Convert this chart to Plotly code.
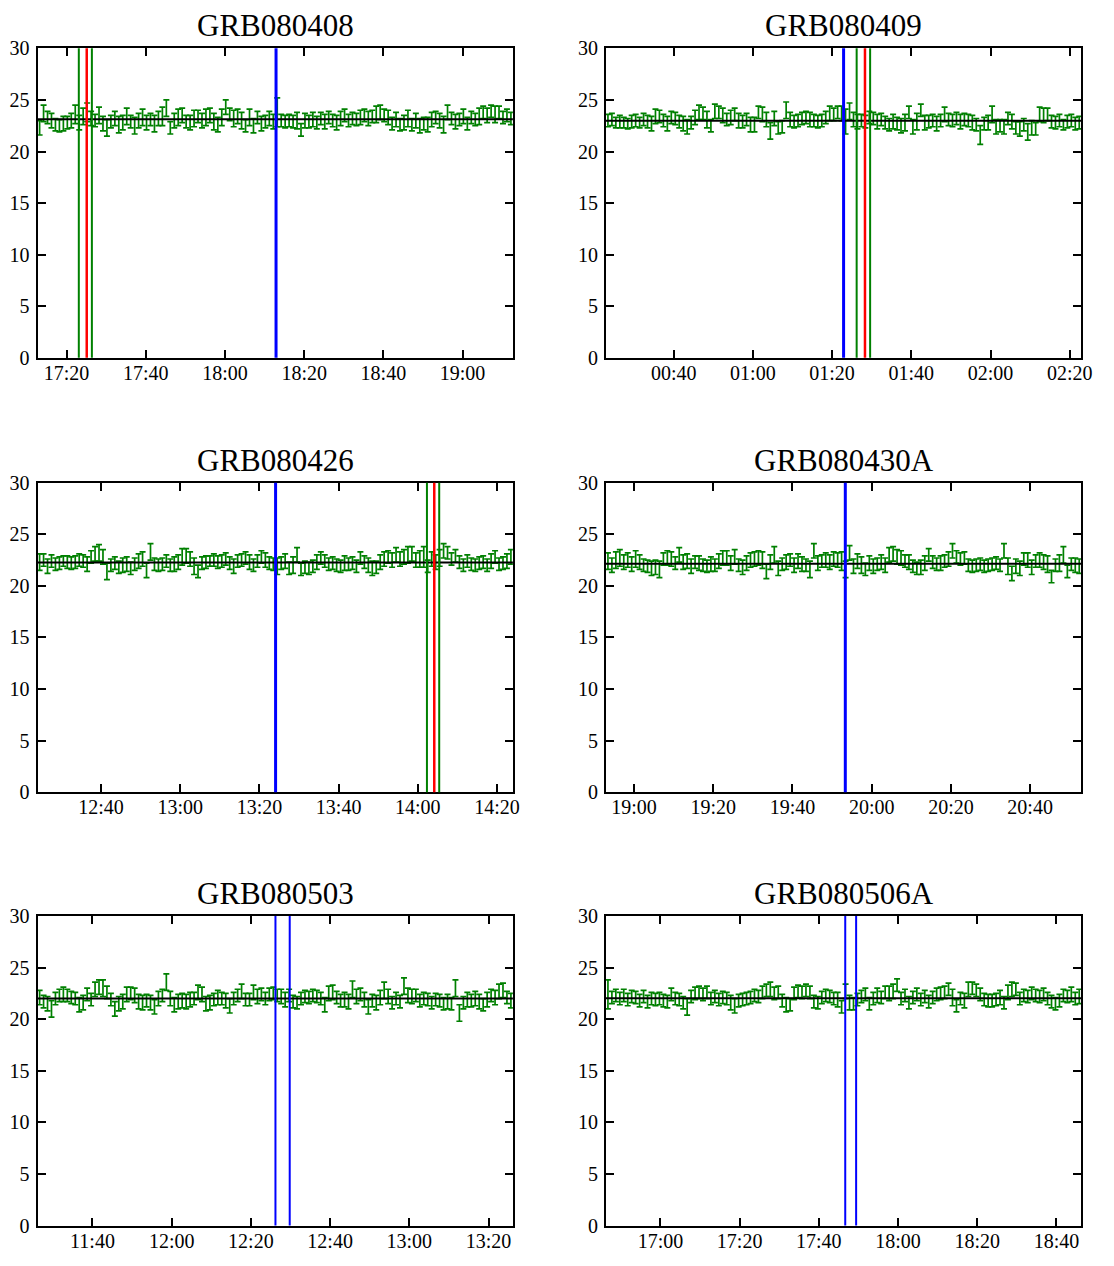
import pandas as pd
import plotly.graph_objects as go

# ---- light-curve data: one-minute magnitudes around each burst ----
titles = ["GRB080408", "GRB080409", "GRB080426", "GRB080430A", "GRB080503", "GRB080506A"]

# start of each two-hour window (axis range)
window_start = ["2008-04-08 17:12:42", "2008-04-09 00:22:54", "2008-04-26 12:24:00",
                "2008-04-30 18:52:54", "2008-05-03 11:26:09", "2008-05-06 16:46:15"]

# constant reference level of each field
levels = [23.12, 22.98, 22.25, 22.15, 22.0, 22.02]

mag_080408 = [22.3, 23.7, 23.3, 23.0, 22.6, 22.5, 22.7, 22.8, 23.0, 23.6, 22.8,
              23.4, 23.8, 23.2, 23.0, 23.5, 22.7, 22.3, 22.9, 23.2, 22.6,
              22.8, 23.4, 22.9, 22.5, 23.0, 23.3, 22.8, 23.1, 22.7, 23.2,
              23.4, 24.2, 22.3, 23.0, 23.3, 23.5, 22.9, 22.8, 23.2, 23.4,
              23.0, 23.3, 23.5, 22.9, 22.6, 23.3, 24.3, 23.6, 23.2, 23.4,
              23.0, 22.5, 23.3, 22.5, 23.3, 22.7, 22.9, 23.2, 22.9, 23.8,
              23.0, 22.9, 23.0, 22.9, 23.0, 22.1, 23.0, 22.9, 23.1, 22.8,
              23.2, 22.9, 23.3, 23.0, 22.8, 23.2, 23.5, 23.0, 23.2, 23.1,
              23.3, 23.5, 23.2, 23.4, 23.6, 23.8, 23.5, 23.3, 22.7, 23.1,
              22.6, 22.8, 23.2, 22.6, 23.0, 22.5, 22.7, 22.6, 23.1, 23.3,
              23.0, 22.6, 23.8, 23.2, 22.9, 23.1, 23.4, 22.7, 23.3, 23.1,
              23.4, 23.8, 23.5, 23.9, 23.6, 23.8, 23.3, 23.5, 23.2]
err_080408 = [0.7, 0.8, 0.6, 0.7, 0.6, 0.6, 0.7, 0.6, 0.7, 0.9,
              0.7, 0.8, 0.9, 0.7, 0.6, 0.8, 0.7, 0.8, 0.6, 0.7,
              0.8, 0.7, 0.8, 0.6, 0.8, 0.7, 0.8, 0.7, 0.6, 0.8,
              0.7, 0.9, 0.8, 0.6, 0.7, 0.8, 0.7, 0.6, 0.7, 0.8,
              0.6, 0.7, 0.8, 0.7, 0.8, 0.7, 0.8, 0.7, 0.6, 0.8,
              0.7, 0.8, 0.6, 0.8, 0.7, 0.6, 0.7, 0.6, 0.7, 0.7,
              1.4, 0.6, 0.6, 0.6, 0.6, 0.8, 0.6, 0.7, 0.6, 0.7,
              0.6, 0.6, 0.7, 0.6, 0.6, 0.7, 0.7, 0.6, 0.6, 0.6,
              0.6, 0.7, 0.6, 0.7, 0.6, 0.8, 0.7, 0.6, 0.7, 0.6,
              0.7, 0.6, 0.7, 0.8, 0.6, 0.7, 0.7, 0.6, 0.7, 0.7,
              0.6, 0.7, 0.8, 0.7, 0.6, 0.7, 0.6, 0.7, 0.6, 0.6,
              0.6, 0.8, 0.6, 0.7, 0.6, 0.8, 0.6, 0.6, 0.6, 0.6]

mag_080409 = [23.0, 23.1, 22.8, 22.9, 22.8, 22.7, 22.9, 23.0, 22.8, 23.1, 22.9,
              22.7, 23.4, 23.4, 23.0, 22.7, 23.3, 23.2, 22.9, 22.7, 22.4,
              22.8, 23.3, 23.8, 23.7, 23.1, 22.5, 23.9, 23.8, 23.5, 23.1,
              23.3, 23.6, 23.0, 22.9, 23.1, 22.6, 22.6, 23.8, 23.6, 23.1,
              22.0, 23.2, 22.3, 22.4, 24.0, 23.1, 22.9, 23.0, 23.2, 23.3,
              23.1, 23.0, 22.9, 23.0, 23.3, 23.7, 23.6, 23.8, 23.7, 22.9,
              23.9, 23.1, 22.9, 23.0, 22.9, 23.3, 23.2, 22.9, 23.1, 22.8,
              22.6, 22.9, 22.7, 22.5, 22.8, 23.8, 22.4, 22.9, 24.0, 22.8,
              22.9, 23.0, 22.7, 23.0, 23.6, 23.1, 23.0, 23.2, 22.9, 23.1,
              23.0, 22.8, 22.6, 21.6, 22.7, 22.8, 23.6, 22.4, 22.5, 22.4,
              23.2, 22.9, 22.3, 22.2, 22.6, 21.9, 22.3, 22.2, 23.6, 23.5,
              23.6, 22.9, 22.8, 23.0, 22.6, 22.9, 23.0, 22.7, 22.8]
err_080409 = [0.6, 0.6, 0.5, 0.6, 0.5, 0.5, 0.6, 0.6, 0.5, 0.6,
              0.6, 0.7, 0.7, 0.6, 0.6, 0.7, 0.6, 0.6, 0.6, 0.7,
              0.7, 0.6, 0.7, 0.7, 0.6, 0.8, 0.6, 0.7, 0.6, 0.7,
              0.6, 0.7, 0.6, 0.7, 0.6, 0.6, 0.7, 0.7, 0.6, 0.7,
              0.7, 0.8, 0.7, 0.6, 0.6, 0.8, 0.7, 0.6, 0.6, 0.6,
              0.6, 0.7, 0.6, 0.6, 0.6, 0.6, 0.7, 0.6, 0.6, 0.7,
              1.2, 0.8, 0.7, 0.7, 0.6, 0.6, 0.6, 0.6, 0.7, 0.6,
              0.6, 0.6, 0.7, 0.6, 0.7, 0.8, 0.6, 0.7, 0.8, 0.6,
              0.7, 0.6, 0.6, 0.7, 0.6, 0.7, 0.6, 0.6, 0.6, 0.7,
              0.6, 0.6, 0.7, 0.6, 0.9, 0.6, 0.7, 0.8, 0.7, 0.6,
              0.7, 0.6, 0.7, 0.6, 0.7, 0.6, 0.8, 0.7, 0.6, 0.7,
              0.7, 0.6, 0.6, 0.6, 0.6, 0.5, 0.6, 0.6, 0.6, 0.6]

mag_080426 = [22.3, 22.5, 21.9, 22.4, 22.1, 22.2, 22.4, 22.3, 22.2, 22.3, 22.5,
              22.4, 22.1, 22.8, 23.1, 23.2, 22.8, 21.4, 22.0, 22.2, 21.8,
              22.0, 22.1, 21.7, 22.1, 22.4, 22.6, 21.5, 23.3, 22.1, 22.0,
              22.1, 22.4, 22.0, 22.1, 22.3, 22.8, 22.9, 22.6, 21.9, 21.4,
              22.2, 22.3, 22.4, 22.5, 22.3, 22.4, 22.6, 22.2, 21.9, 22.4,
              22.5, 22.7, 22.3, 22.0, 22.4, 22.8, 22.5, 22.2, 22.1, 21.9,
              22.2, 22.4, 21.7, 22.0, 23.0, 21.6, 21.8, 21.7, 21.9, 22.3,
              22.7, 22.4, 22.1, 22.2, 22.0, 21.9, 22.2, 22.1, 22.2, 21.9,
              22.7, 22.3, 22.0, 21.7, 21.8, 22.3, 22.6, 22.8, 22.5, 23.0,
              22.6, 22.8, 23.0, 23.1, 22.5, 22.6, 22.8, 21.9, 22.6, 22.3,
              22.7, 23.4, 23.2, 22.6, 22.9, 22.3, 22.0, 22.4, 22.1, 22.0,
              22.2, 22.3, 22.0, 22.4, 22.8, 22.1, 22.2, 22.4, 22.8]
err_080426 = [0.8, 0.6, 0.7, 0.6, 0.6, 0.6, 0.5, 0.6, 0.6, 0.6,
              0.6, 0.6, 0.7, 0.6, 0.7, 0.8, 0.7, 0.8, 0.6, 0.6,
              0.6, 0.7, 0.7, 0.6, 0.6, 0.7, 0.7, 0.7, 0.8, 0.6,
              0.6, 0.6, 0.6, 0.6, 0.7, 0.7, 0.8, 0.7, 0.7, 0.8,
              0.6, 0.6, 0.6, 0.5, 0.6, 0.6, 0.6, 0.6, 0.6, 0.7,
              0.6, 0.6, 0.6, 0.7, 0.6, 0.6, 0.6, 0.7, 0.6, 0.6,
              0.8, 0.6, 0.7, 0.6, 0.8, 0.7, 0.6, 0.6, 0.6, 0.6,
              0.7, 0.6, 0.6, 0.6, 0.6, 0.6, 0.6, 0.7, 0.6, 0.6,
              0.6, 0.6, 0.6, 0.7, 0.7, 0.6, 0.7, 0.7, 0.6, 0.7,
              0.7, 0.7, 0.7, 0.8, 0.7, 0.7, 0.8, 1.0, 0.6, 0.7,
              0.7, 0.8, 0.7, 0.6, 0.6, 0.6, 0.6, 0.6, 0.6, 0.6,
              0.6, 0.6, 0.6, 0.6, 0.7, 0.6, 0.6, 0.6, 0.7, 0.7]

mag_080430A = [22.4, 22.0, 22.5, 22.7, 22.3, 22.5, 22.1, 22.6, 22.3, 22.0, 21.9,
               21.7, 21.8, 21.6, 22.6, 22.7, 22.6, 22.2, 23.0, 22.3, 22.4,
               21.9, 22.3, 22.2, 22.0, 21.9, 22.1, 22.0, 22.4, 22.7, 22.7,
               22.2, 22.8, 22.0, 21.8, 22.2, 22.5, 22.6, 22.7, 22.5, 21.4,
               22.3, 23.0, 21.7, 22.1, 22.3, 22.5, 22.0, 22.4, 22.1, 22.0,
               21.6, 23.4, 22.2, 22.4, 22.5, 22.3, 22.6, 22.5, 22.4, 21.6,
               23.2, 21.9, 22.4, 22.0, 21.6, 22.2, 21.9, 22.1, 22.3, 22.0,
               23.0, 23.1, 22.8, 22.7, 22.4, 22.3, 21.9, 21.7, 21.8, 22.2,
               23.0, 22.3, 22.1, 22.2, 22.4, 22.6, 23.4, 22.8, 22.6, 22.7,
               22.0, 21.9, 22.0, 22.1, 21.9, 22.0, 22.1, 22.2, 22.0, 23.4,
               21.9, 21.2, 21.9, 21.7, 22.6, 22.5, 21.8, 22.4, 22.5, 22.3,
               22.1, 20.9, 22.0, 22.2, 23.0, 21.4, 22.1, 22.0, 21.9]
err_080430A = [0.8, 0.7, 0.8, 0.8, 0.7, 0.7, 0.7, 0.8, 0.7, 0.6,
               0.6, 0.7, 0.7, 0.8, 0.6, 0.7, 0.7, 0.6, 0.7, 0.7,
               0.7, 0.7, 0.6, 0.7, 0.6, 0.6, 0.7, 0.6, 0.7, 0.7,
               0.7, 0.7, 0.7, 0.6, 0.7, 0.7, 0.7, 0.7, 0.7, 0.8,
               0.7, 0.7, 0.8, 0.7, 0.6, 0.7, 0.6, 0.7, 0.7, 0.7,
               0.6, 0.8, 0.7, 0.7, 0.6, 0.7, 0.7, 0.7, 0.7, 0.9,
               0.8, 0.7, 0.7, 0.7, 0.8, 0.6, 0.7, 0.7, 0.6, 0.7,
               0.7, 0.7, 0.7, 0.7, 0.7, 0.6, 0.7, 0.6, 0.6, 0.7,
               0.7, 0.6, 0.6, 0.6, 0.7, 0.6, 0.7, 0.7, 0.6, 0.6,
               0.6, 0.6, 0.6, 0.6, 0.6, 0.6, 0.6, 0.6, 0.6, 0.6,
               0.7, 0.8, 0.7, 0.7, 0.7, 0.6, 0.7, 0.7, 0.6, 0.7,
               0.7, 0.8, 0.6, 0.6, 0.8, 0.8, 0.6, 0.6, 0.7, 0.7]

mag_080503 = [22.1, 21.7, 21.5, 21.0, 22.0, 22.3, 22.4, 22.3, 22.1, 22.0, 21.4,
              21.6, 22.4, 21.9, 22.9, 23.1, 23.0, 22.6, 21.9, 21.0, 21.5,
              21.7, 22.4, 22.5, 22.3, 21.7, 21.6, 21.8, 21.6, 21.2, 22.0,
              22.3, 23.6, 22.0, 21.4, 21.7, 21.8, 21.7, 21.9, 22.0, 22.6,
              22.4, 21.5, 21.6, 21.9, 22.1, 22.0, 21.8, 21.3, 22.0, 22.3,
              22.7, 21.9, 21.9, 22.6, 22.2, 22.4, 22.0, 22.4, 22.5, 22.3,
              22.2, 21.9, 22.3, 21.7, 21.6, 22.0, 22.2, 22.1, 22.3, 22.2,
              22.0, 21.4, 22.5, 22.6, 22.1, 21.8, 21.9, 21.7, 22.9, 22.2,
              22.4, 21.9, 21.2, 21.8, 21.6, 22.1, 22.8, 22.2, 21.6, 22.0,
              21.7, 23.2, 22.3, 22.2, 22.3, 21.8, 22.0, 21.9, 21.6, 21.9,
              21.8, 21.5, 21.7, 21.5, 23.0, 20.6, 21.6, 21.9, 21.8, 22.0,
              21.7, 21.4, 21.9, 22.3, 22.1, 22.7, 22.8, 22.1, 21.8]
err_080503 = [0.7, 0.6, 0.7, 0.8, 0.6, 0.6, 0.7, 0.6, 0.6, 0.6,
              0.7, 0.7, 0.6, 0.6, 0.7, 0.7, 0.8, 0.6, 0.6, 0.7,
              0.7, 0.7, 0.7, 0.6, 0.7, 0.7, 0.7, 0.6, 0.7, 0.7,
              0.7, 0.6, 0.8, 0.7, 0.7, 0.7, 0.7, 0.7, 0.7, 0.6,
              0.7, 0.7, 0.7, 0.7, 0.6, 0.7, 0.6, 0.7, 0.7, 0.6,
              0.6, 0.7, 0.6, 0.6, 0.7, 0.7, 0.6, 0.6, 0.6, 0.6,
              0.6, 0.7, 0.7, 0.6, 0.6, 0.6, 0.6, 0.6, 0.6, 0.6,
              0.6, 0.6, 0.7, 0.7, 0.7, 0.6, 0.6, 0.7, 0.7, 0.8,
              0.7, 0.6, 0.7, 0.7, 0.6, 0.7, 0.7, 0.8, 0.7, 0.6,
              0.6, 0.6, 0.8, 0.7, 0.7, 0.6, 0.6, 0.6, 0.6, 0.6,
              0.6, 0.6, 0.6, 0.7, 0.6, 0.8, 0.8, 0.6, 0.7, 0.6,
              0.7, 0.7, 0.6, 0.7, 0.6, 0.7, 0.7, 0.7, 0.6, 0.7]

mag_080506A = [22.4, 22.1, 22.3, 22.0, 22.3, 21.9, 22.2, 22.1, 21.8, 22.2, 21.7,
               22.0, 21.9, 22.0, 21.8, 21.7, 22.4, 22.0, 21.9, 21.6, 21.2,
               22.2, 22.5, 22.6, 22.4, 22.6, 22.0, 22.2, 21.9, 22.1, 22.0,
               21.6, 21.3, 21.8, 21.9, 22.0, 22.1, 22.3, 22.2, 22.6, 22.8,
               22.9, 22.5, 22.6, 21.8, 21.4, 21.4, 22.5, 22.7, 22.6, 22.8,
               22.6, 21.7, 21.6, 22.1, 22.3, 22.2, 22.0, 21.9, 21.2, 22.7,
               21.6, 21.5, 21.9, 22.2, 22.4, 21.5, 22.0, 22.3, 22.1, 22.6,
               22.5, 22.7, 23.3, 22.0, 22.3, 21.6, 22.1, 22.4, 21.9, 22.2,
               21.7, 22.1, 22.4, 22.5, 22.6, 22.9, 22.1, 21.3, 22.0, 21.8,
               22.9, 23.0, 22.8, 22.4, 21.9, 21.8, 21.8, 21.9, 22.1, 21.6,
               22.6, 22.9, 22.9, 22.0, 22.3, 22.2, 22.5, 22.3, 22.2, 22.4,
               22.0, 21.7, 21.5, 21.8, 22.3, 22.2, 22.4, 22.0, 22.2]
err_080506A = [1.4, 0.6, 0.6, 0.6, 0.6, 0.6, 0.6, 0.6, 0.6, 0.6,
               0.6, 0.6, 0.6, 0.6, 0.6, 0.6, 0.6, 0.6, 0.6, 0.6,
               0.8, 0.6, 0.6, 0.6, 0.6, 0.6, 0.6, 0.6, 0.6, 0.6,
               0.6, 0.7, 0.7, 0.6, 0.6, 0.6, 0.6, 0.6, 0.6, 0.6,
               0.6, 0.7, 0.6, 0.6, 0.6, 0.7, 0.6, 0.6, 0.6, 0.6,
               0.6, 0.6, 0.6, 0.6, 0.6, 0.6, 0.6, 0.6, 0.7, 0.6,
               0.7, 0.7, 0.6, 0.6, 0.6, 0.6, 0.6, 0.6, 0.7, 0.6,
               0.6, 0.7, 0.7, 0.6, 0.6, 0.6, 0.6, 0.6, 0.6, 0.6,
               0.6, 0.6, 0.6, 0.6, 0.6, 0.6, 0.6, 0.8, 0.6, 0.6,
               0.7, 0.7, 0.6, 0.6, 0.6, 0.6, 0.6, 0.6, 0.6, 0.7,
               0.6, 0.7, 0.7, 0.6, 0.6, 0.6, 0.6, 0.6, 0.6, 0.6,
               0.6, 0.6, 0.6, 0.6, 0.6, 0.6, 0.6, 0.7, 0.6, 0.7]

mags = [mag_080408, mag_080409, mag_080426, mag_080430A, mag_080503, mag_080506A]
errs = [err_080408, err_080409, err_080426, err_080430A, err_080503, err_080506A]

# marker times drawn as vertical lines (trigger, afterglow window, optical detection)
trigger_times = [["2008-04-08 18:12:54"], ["2008-04-09 01:22:54"], ["2008-04-26 13:24:05"],
                 ["2008-04-30 19:53:20"], ["2008-05-03 12:26:12", "2008-05-03 12:29:48"],
                 ["2008-05-06 17:46:40", "2008-05-06 17:49:25"]]
window_times = [["2008-04-08 17:23:06", "2008-04-08 17:26:24"],
                ["2008-04-09 01:26:12", "2008-04-09 01:29:36"],
                ["2008-04-26 14:02:18", "2008-04-26 14:05:24"], [], [], []]
optical_times = [["2008-04-08 17:25:06"], ["2008-04-09 01:28:18"], ["2008-04-26 14:04:09"], [], [], []]

# ---- layout geometry ----
W, H = 1114, 1266
col_px = [(38, 518), (612, 1092)]
row_px = [(38, 353), (480, 795), (921, 1236)]

FONT = "Liberation Serif"
GREEN = "#008000"

fig = go.Figure()
shapes = []
annotations = []

for k in range(6):
    r, c = divmod(k, 2)
    sfx = "" if k == 0 else str(k + 1)
    xname, yname = "x" + sfx, "y" + sfx
    x0p, x1p = col_px[c]
    y0p, y1p = row_px[r]

    start = pd.Timestamp(window_start[k])
    end = start + pd.Timedelta(hours=2)
    times = pd.date_range(start + pd.Timedelta(seconds=30), periods=len(mags[k]), freq="1min")

    fig.add_trace(go.Scatter(
        x=times, y=mags[k], mode="markers",
        marker=dict(size=1, color="rgba(0,0,0,0)"),
        error_y=dict(type="data", array=errs[k], color=GREEN, thickness=1.7, width=3),
        xaxis=xname, yaxis=yname, showlegend=False, hoverinfo="skip",
    ))

    axis_common = dict(
        showline=True, linecolor="black", linewidth=2, mirror="ticks",
        ticks="inside", ticklen=8, tickwidth=1.5, tickcolor="black",
        showgrid=False, zeroline=False,
        tickfont=dict(family=FONT, size=20, color="black"),
    )
    fig.update_layout(**{
        ("xaxis" + sfx): dict(
            domain=[x0p / W, x1p / W], anchor=yname, type="date",
            range=[start, end], tickformat="%H:%M", dtick=20 * 60 * 1000,
            tick0="2008-01-01 00:00:00", ticklabelstandoff=-4, **axis_common),
        ("yaxis" + sfx): dict(
            domain=[1 - y1p / H, 1 - y0p / H], anchor=xname,
            range=[0, 30], dtick=5, tick0=0, ticklabelstandoff=2, **axis_common),
    })

    # reference level
    shapes.append(dict(type="line", xref=xname + " domain", yref=yname,
                       x0=0, x1=1, y0=levels[k], y1=levels[k],
                       line=dict(color="black", width=2)))
    # detection window edges, optical time, trigger time
    for t in window_times[k]:
        shapes.append(dict(type="line", xref=xname, yref=yname + " domain",
                           x0=t, x1=t, y0=0, y1=1, line=dict(color=GREEN, width=2)))
    for t in optical_times[k]:
        shapes.append(dict(type="line", xref=xname, yref=yname + " domain",
                           x0=t, x1=t, y0=0, y1=1, line=dict(color="#ff0000", width=2.5)))
    bw = 3 if len(trigger_times[k]) == 1 else 2
    for t in trigger_times[k]:
        shapes.append(dict(type="line", xref=xname, yref=yname + " domain",
                           x0=t, x1=t, y0=0, y1=1, line=dict(color="#0000ff", width=bw)))

    annotations.append(dict(text=titles[k], xref=xname + " domain", yref=yname + " domain",
                            x=0.5, y=1, xanchor="center", yanchor="bottom", yshift=3,
                            showarrow=False, font=dict(family=FONT, size=31, color="black")))

fig.update_layout(
    width=W, height=H, margin=dict(l=0, r=0, t=0, b=0),
    paper_bgcolor="white", plot_bgcolor="white",
    shapes=shapes, annotations=annotations,
)

fig.write_html("out.html")
